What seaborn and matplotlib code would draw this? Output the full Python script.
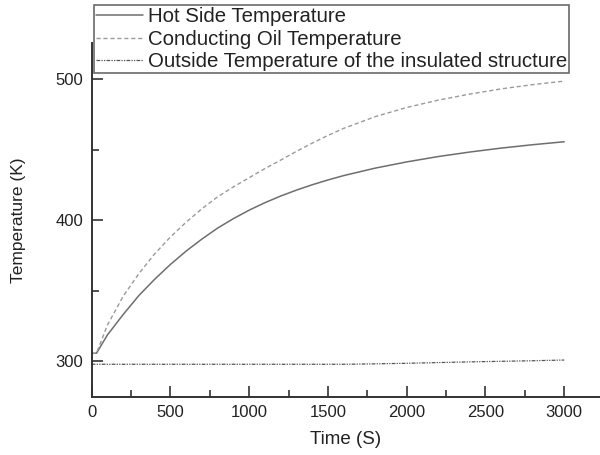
import pandas as pd
import seaborn as sns
import matplotlib.pyplot as plt
from matplotlib.ticker import MultipleLocator

# valores
tempo = [0, 30, 100, 200, 300, 400, 500, 600, 700, 800, 900, 1000, 1100, 1200, 1300,
         1400, 1500, 1600, 1800, 2000, 2200, 2400, 2600, 2800, 3000]
lado_quente = [305.5, 305.5, 318.5, 333, 346.5, 358, 368.5, 378, 386.5, 394.3, 401,
               407, 412.3, 417, 421.2, 425, 428.4, 431.5, 436.8, 441.2, 445, 448.2,
               451, 453.4, 455.5]
oleo = [305.5, 305.5, 325.5, 346, 362, 376, 388, 398.5, 408, 416.5, 423.5, 430,
        436.5, 442.5, 448.7, 454.5, 460, 465, 473.3, 479.8, 485, 489.3, 493, 496, 498.5]
externa = [297.7, 297.7, 297.7, 297.7, 297.7, 297.7, 297.7, 297.7, 297.7, 297.7,
           297.7, 297.7, 297.7, 297.7, 297.7, 297.7, 297.7, 297.7, 298.0, 298.4,
           298.9, 299.4, 299.8, 300.2, 300.7]
rotulos = ['Hot Side Temperature', 'Conducting Oil Temperature',
           'Outside Temperature of the insulated structure']

df = pd.DataFrame({'Tempo': tempo, 'Quente': lado_quente, 'Oleo': oleo, 'Externa': externa})

sns.set_style('ticks')
plt.rcParams['font.family'] = ['Liberation Sans', 'DejaVu Sans']

fig = plt.figure(figsize=(6, 4.55), dpi=100)
ax = fig.add_axes([0.1528, 0.1275, 0.8472, 0.7773])

sns.lineplot(data=df, x='Tempo', y='Quente', ax=ax, color='#6e6e6e', lw=1.1,
             linestyle='-', label=rotulos[0])
sns.lineplot(data=df, x='Tempo', y='Oleo', ax=ax, color='#9a9a9a', lw=1.0,
             linestyle=(0, (3, 2)), label=rotulos[1])
sns.lineplot(data=df, x='Tempo', y='Externa', ax=ax, color='#555555', lw=0.9,
             linestyle=(0, (3, 1, 1, 1, 1, 1)), label=rotulos[2])

ax.set_xlim(0, 3227)
ax.set_ylim(274.5, 525.3)
ax.set_xticks([0, 500, 1000, 1500, 2000, 2500, 3000])
ax.set_yticks([300, 400, 500])
ax.xaxis.set_minor_locator(MultipleLocator(250))
ax.yaxis.set_minor_locator(MultipleLocator(50))
ax.tick_params(which='major', direction='in', length=8, width=1.2, color='#333333',
               labelsize=12, labelcolor='#222222', pad=6)
ax.tick_params(which='minor', direction='in', length=5, width=1.2, color='#333333')
for lado in ['top', 'right']:
    ax.spines[lado].set_visible(False)
for lado in ['left', 'bottom']:
    ax.spines[lado].set_linewidth(1.4)
    ax.spines[lado].set_color('#333333')

ax.set_xlabel('Time (S)', fontsize=13.5, color='#222222', labelpad=8)
ax.set_ylabel('Temperature (K)', fontsize=12.5, color='#222222', labelpad=21)

leg = ax.legend(loc='upper left', bbox_to_anchor=(0.157, 0.989), bbox_transform=fig.transFigure,
                fontsize=14.7, frameon=True, fancybox=False, borderpad=0.1, borderaxespad=0,
                handlelength=2.3, handletextpad=0.24, labelspacing=0.18)
leg.get_frame().set_edgecolor('#444444')
leg.get_frame().set_linewidth(1.2)
for t in leg.get_texts():
    t.set_color('#222222')

fig.savefig('out.png', dpi=100)
